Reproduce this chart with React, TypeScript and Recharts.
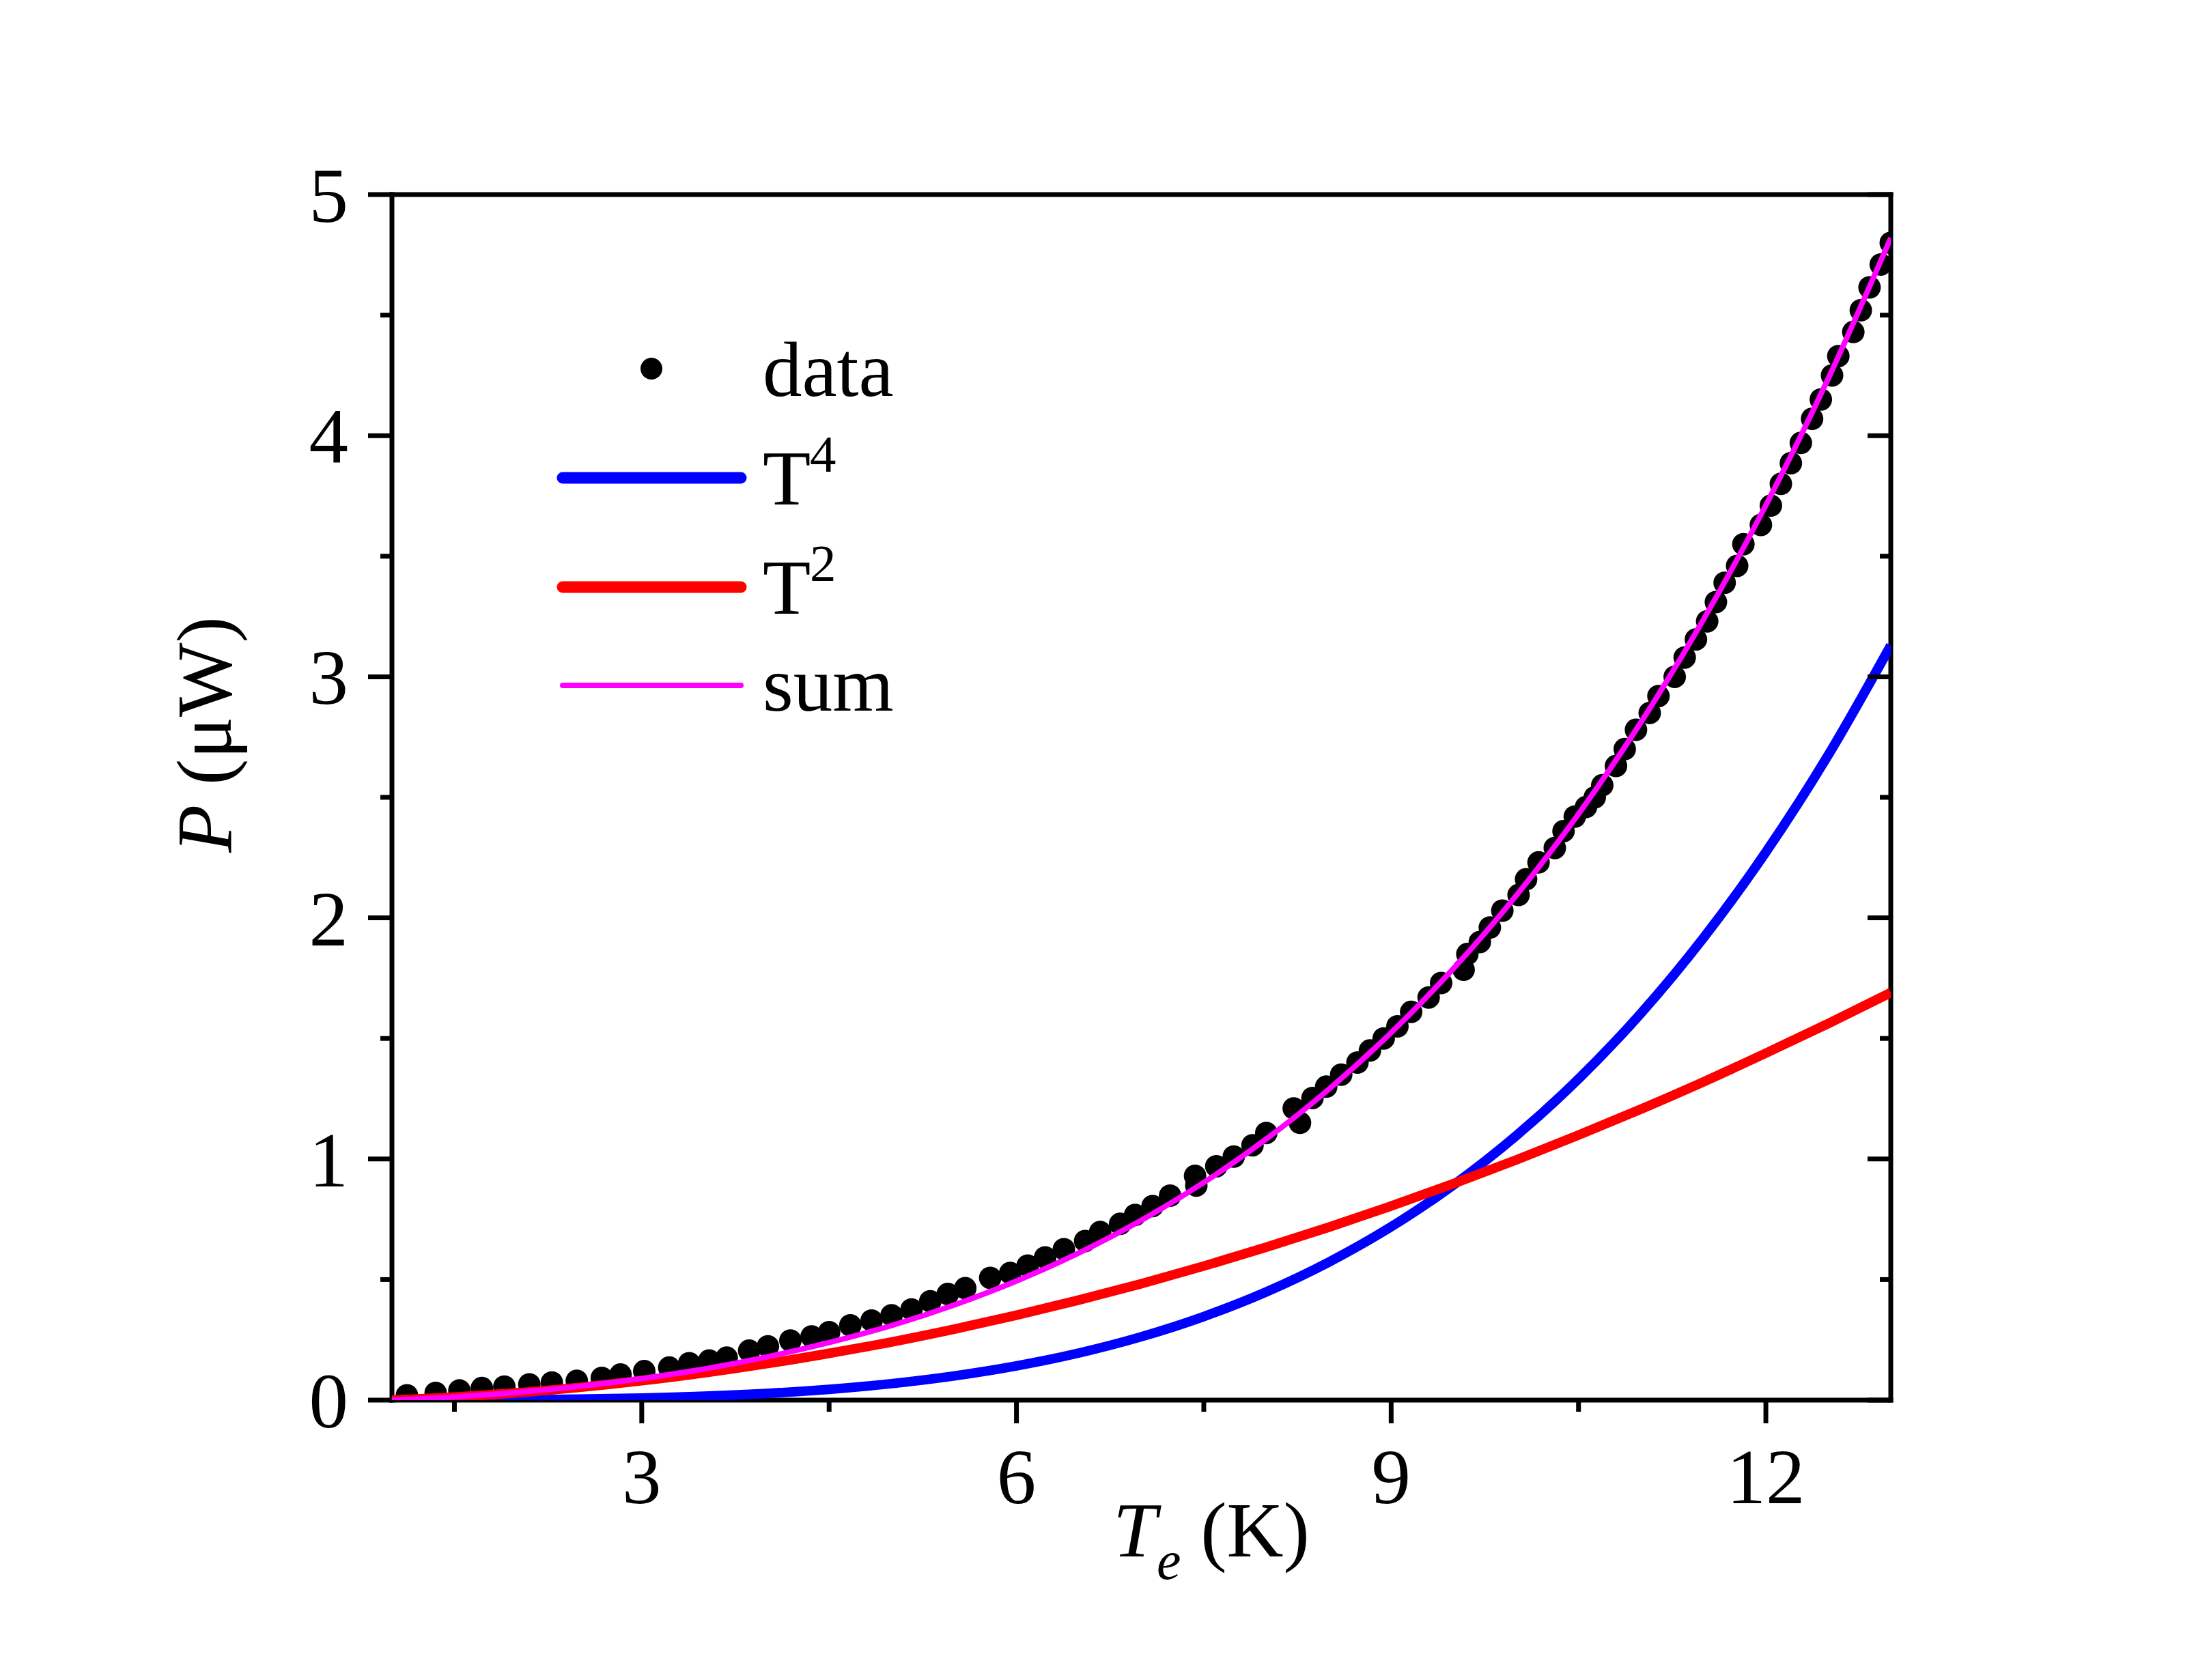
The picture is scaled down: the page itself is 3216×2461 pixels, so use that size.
import { ComposedChart, Legend, Line, Scatter, XAxis, YAxis } from "recharts";

// fitted curves on a 0.5 K grid
const tempGrid = [1, 1.5, 2, 2.5, 3, 3.5, 4, 4.5, 5, 5.5, 6, 6.5, 7, 7.5, 8, 8.5, 9, 9.5, 10, 10.5, 11, 11.5, 12, 12.5, 13];
const t4Fit = [0, 0.0005, 0.0016, 0.0042, 0.0088, 0.0163, 0.0279, 0.0448, 0.0684, 0.1002, 0.1419, 0.1955, 0.263, 0.3467, 0.4488, 0.572, 0.719, 0.8926, 1.0959, 1.332, 1.6045, 1.917, 2.2726, 2.6757, 3.13];
const t2Fit = [0, 0.0126, 0.0302, 0.0528, 0.0805, 0.113, 0.151, 0.194, 0.241, 0.294, 0.352, 0.415, 0.483, 0.556, 0.634, 0.717, 0.805, 0.898, 0.996, 1.099, 1.207, 1.32, 1.439, 1.562, 1.69];
const sumFit = [0, 0.0131, 0.0318, 0.057, 0.0893, 0.1293, 0.1789, 0.2388, 0.3094, 0.3942, 0.4939, 0.6105, 0.746, 0.9027, 1.0828, 1.289, 1.524, 1.7906, 2.0919, 2.431, 2.8115, 3.237, 3.7116, 4.2377, 4.82];

// measured points
const dataT = [
  1.12, 1.35, 1.54, 1.72, 1.9, 2.1, 2.28, 2.48, 2.68, 2.83, 3.02, 3.22, 3.38, 3.54, 3.68, 3.86, 4.01, 4.19, 4.36, 4.5,
  4.67, 4.84, 5.0, 5.16, 5.31, 5.45, 5.59, 5.79, 5.95, 6.09, 6.23, 6.38, 6.55, 6.67, 6.83, 6.95, 7.09, 7.23, 7.43, 7.44,
  7.6, 7.74, 7.89, 8.0, 8.22, 8.27, 8.37, 8.48, 8.6, 8.73, 8.83, 8.94, 9.05, 9.16, 9.3, 9.4, 9.58, 9.61, 9.71, 9.79,
  9.89, 10.02, 10.08, 10.18, 10.31, 10.38, 10.47, 10.56, 10.63, 10.69, 10.8, 10.87, 10.96, 11.07, 11.14, 11.27, 11.35,
  11.44, 11.53, 11.6, 11.67, 11.77, 11.82, 11.96, 12.04, 12.12, 12.2, 12.28, 12.37, 12.44, 12.53, 12.58, 12.7, 12.76,
  12.83, 12.92, 13.0,
];
const dataP = [
  0.02, 0.03, 0.04, 0.05, 0.056, 0.065, 0.073, 0.08, 0.092, 0.106, 0.12, 0.135, 0.153, 0.164, 0.176, 0.205, 0.223, 0.247, 0.264, 0.282,
  0.31, 0.33, 0.352, 0.376, 0.41, 0.44, 0.464, 0.507, 0.527, 0.558, 0.592, 0.626, 0.66, 0.697, 0.731, 0.768, 0.805, 0.848, 0.93, 0.89,
  0.97, 1.01, 1.057, 1.108, 1.21, 1.15, 1.253, 1.3, 1.35, 1.4, 1.45, 1.5, 1.55, 1.61, 1.67, 1.73, 1.785, 1.85, 1.9, 1.96,
  2.03, 2.095, 2.16, 2.23, 2.29, 2.36, 2.42, 2.46, 2.5, 2.55, 2.63, 2.7, 2.78, 2.85, 2.92, 3.0, 3.08,
  3.155, 3.23, 3.31, 3.39, 3.46, 3.55, 3.63, 3.71, 3.8, 3.886, 3.97, 4.07, 4.15, 4.25, 4.33, 4.43, 4.52,
  4.615, 4.71, 4.8,
];

const xTicks = [1.5, 3, 4.5, 6, 7.5, 9, 10.5, 12];
const xLabels = [3, 6, 9, 12];
const yTicks = [0, 0.5, 1, 1.5, 2, 2.5, 3, 3.5, 4, 4.5, 5];
const yLabels = [0, 1, 2, 3, 4, 5];

const FONT = "'Liberation Serif', 'Times New Roman', serif";
const FS = 115;
const AXIS_W = 7;

const toRows = (vals: number[]) => tempGrid.map((t, i) => ({ t, p: vals[i] }));
const dots = dataT.map((t, i) => ({ t, p: dataP[i] }));

function BottomTick({ x, y, payload }: any) {
  const major = xLabels.includes(payload.value);
  return (
    <g>
      <line x1={x} x2={x} y1={y} y2={y + (major ? 34 : 17)} stroke="#000" strokeWidth={AXIS_W} />
      {major && (
        <text x={x} y={y + 151} textAnchor="middle" fontFamily={FONT} fontSize={FS} fill="#000">
          {payload.value}
        </text>
      )}
    </g>
  );
}

function TopTick({ x, y, payload }: any) {
  const major = xLabels.includes(payload.value);
  return <line x1={x} x2={x} y1={y} y2={y + (major ? 33 : 16)} stroke="#000" strokeWidth={AXIS_W} />;
}

function LeftTick({ x, y, payload }: any) {
  const major = yLabels.includes(payload.value);
  return (
    <g>
      <line x1={x} x2={x - (major ? 35 : 17)} y1={y} y2={y} stroke="#000" strokeWidth={AXIS_W} />
      {major && (
        <text x={x - 64} y={y + 40} textAnchor="end" fontFamily={FONT} fontSize={FS} fill="#000">
          {payload.value}
        </text>
      )}
    </g>
  );
}

function RightTick({ x, y, payload }: any) {
  const major = yLabels.includes(payload.value);
  return <line x1={x} x2={x - (major ? 34 : 16)} y1={y} y2={y} stroke="#000" strokeWidth={AXIS_W} />;
}

function XTitle() {
  return (
    <text x={1630} y={2280} fontFamily={FONT} fontSize={FS} fill="#000">
      <tspan fontStyle="italic">T</tspan>
      <tspan fontStyle="italic" fontSize={80} dy={33}>e</tspan>
      <tspan dy={-33}>{" (K)"}</tspan>
    </text>
  );
}

function YTitle() {
  return (
    <text transform="translate(338,1076) rotate(-90)" textAnchor="middle" fontFamily={FONT} fontSize={FS} fill="#000">
      <tspan fontStyle="italic">P</tspan>
      <tspan>{" (μW)"}</tspan>
    </text>
  );
}

function LegendBox() {
  return (
    <svg width={650} height={640} style={{ overflow: "visible" }}>
      <g fontFamily={FONT} fontSize={FS} fill="#000">
        <circle cx={174} cy={100} r={16} fill="#000" />
        <text x={337} y={140}>data</text>
        <line x1={44} x2={305} y1={260} y2={260} stroke="#0000ff" strokeWidth={17} strokeLinecap="round" />
        <text x={337} y={299}>T</text>
        <text x={406} y={251} fontSize={77}>4</text>
        <line x1={44} x2={305} y1={420} y2={420} stroke="#ff0000" strokeWidth={17} strokeLinecap="round" />
        <text x={337} y={459}>T</text>
        <text x={406} y={411} fontSize={77}>2</text>
        <line x1={44} x2={305} y1={564} y2={564} stroke="#ff00ff" strokeWidth={8} strokeLinecap="round" />
        <text x={337} y={601}>sum</text>
      </g>
    </svg>
  );
}

const axisLine = { stroke: "#000", strokeWidth: AXIS_W, strokeLinecap: "square" as const };

export default function App() {
  return (
    <div style={{ position: "absolute", left: 0, top: 0, background: "#fff" }}>
      <ComposedChart width={3216} height={2461} margin={{ top: 285, right: 447, bottom: 310, left: 0 }}>
        <XAxis
          xAxisId="bottom"
          dataKey="t"
          type="number"
          domain={[1, 13]}
          allowDataOverflow
          ticks={xTicks}
          interval={0}
          height={100}
          tickSize={0}
          tickMargin={0}
          tickLine={false}
          axisLine={axisLine}
          tick={<BottomTick />}
          label={<XTitle />}
        />
        <XAxis
          xAxisId="top"
          orientation="top"
          mirror
          type="number"
          domain={[1, 13]}
          allowDataOverflow
          ticks={xTicks}
          interval={0}
          height={10}
          tickSize={0}
          tickMargin={0}
          tickLine={false}
          axisLine={axisLine}
          tick={<TopTick />}
        />
        <YAxis
          yAxisId="left"
          dataKey="p"
          type="number"
          domain={[0, 5]}
          allowDataOverflow
          ticks={yTicks}
          interval={0}
          width={574}
          tickSize={0}
          tickMargin={0}
          tickLine={false}
          axisLine={axisLine}
          tick={<LeftTick />}
          label={<YTitle />}
        />
        <YAxis
          yAxisId="right"
          orientation="right"
          mirror
          type="number"
          domain={[0, 5]}
          allowDataOverflow
          ticks={yTicks}
          interval={0}
          width={10}
          tickSize={0}
          tickMargin={0}
          tickLine={false}
          axisLine={axisLine}
          tick={<RightTick />}
        />
        <Legend
          layout="horizontal"
          verticalAlign="middle"
          align="center"
          content={<LegendBox />}
          wrapperStyle={{ left: 780, top: 440, width: 650, height: 640 }}
        />
        <Scatter
          xAxisId="bottom"
          yAxisId="left"
          data={dots}
          dataKey="p"
          zIndex={300}
          isAnimationActive={false}
          shape={(props: any) => <circle cx={props.cx} cy={props.cy} r={16.5} fill="#000" />}
        />
        <Line xAxisId="bottom" yAxisId="left" data={toRows(t4Fit)} dataKey="p" type="monotone" stroke="#0000ff" strokeWidth={14} dot={false} activeDot={false} zIndex={700} isAnimationActive={false} />
        <Line xAxisId="bottom" yAxisId="left" data={toRows(t2Fit)} dataKey="p" type="monotone" stroke="#ff0000" strokeWidth={14} dot={false} activeDot={false} zIndex={710} isAnimationActive={false} />
        <Line xAxisId="bottom" yAxisId="left" data={toRows(sumFit)} dataKey="p" type="monotone" stroke="#ff00ff" strokeWidth={8} dot={false} activeDot={false} zIndex={720} isAnimationActive={false} />
      </ComposedChart>
    </div>
  );
}
